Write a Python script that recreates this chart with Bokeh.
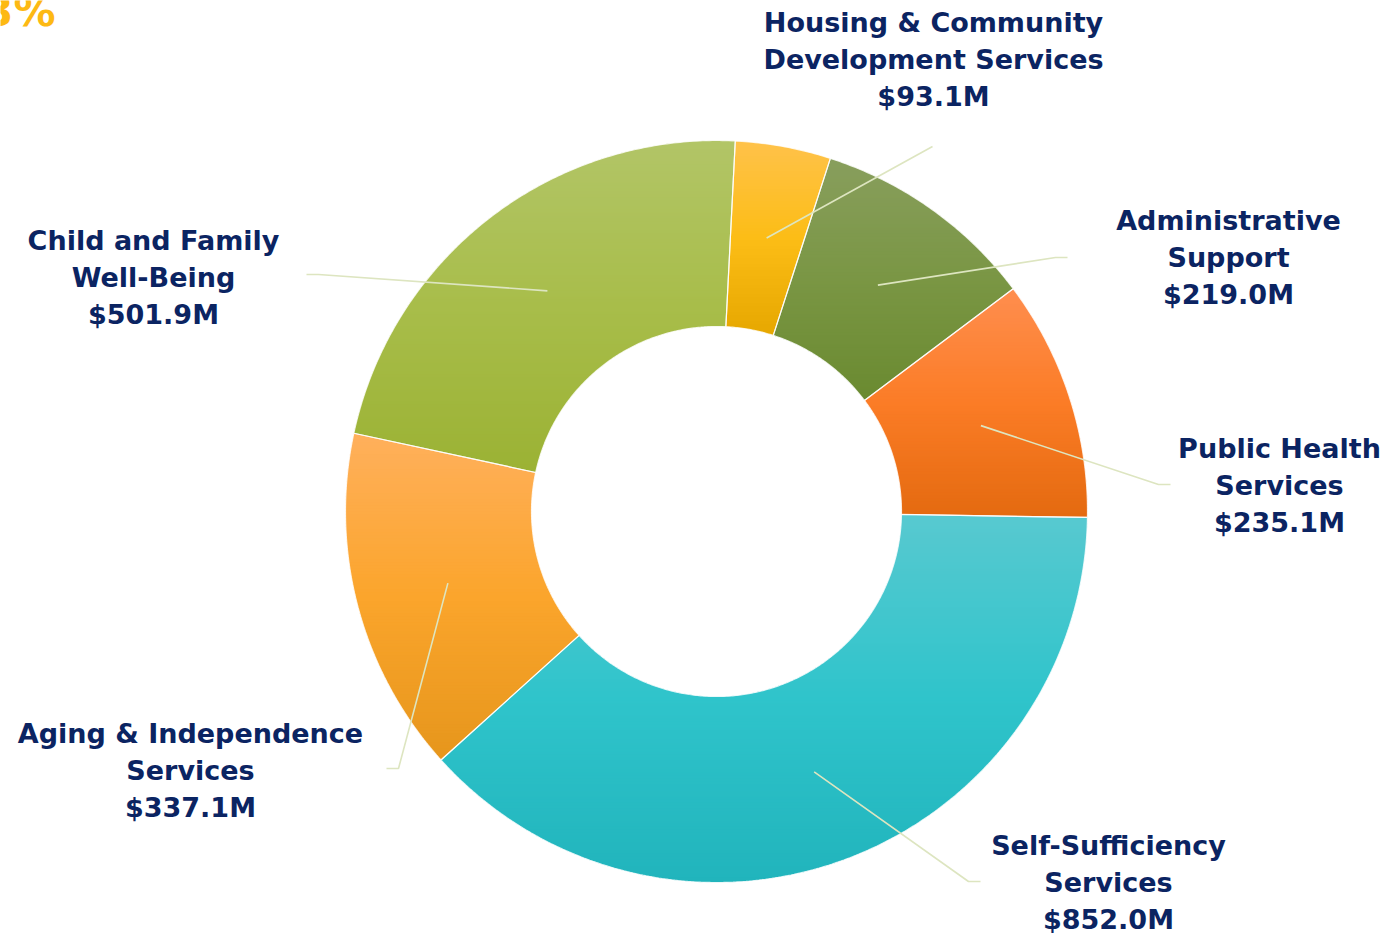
import math
from bokeh.plotting import figure
from bokeh.models import Range1d, ColumnDataSource
from bokeh.core.properties import value
from bokeh.embed import file_html
from bokeh.resources import INLINE

# ---- data ----
categories = ["Housing & Community\nDevelopment Services", "Administrative\nSupport",
              "Public Health\nServices", "Self-Sufficiency\nServices",
              "Aging & Independence\nServices", "Child and Family\nWell-Being"]
values_m = [93.1, 219.0, 235.1, 852.0, 337.1, 501.9]
value_labels = ["$93.1M", "$219.0M", "$235.1M", "$852.0M", "$337.1M", "$501.9M"]
color_top = ["#ffc24a", "#889e5d", "#ff8e4f", "#58c9d0", "#ffb05c", "#b2c567"]
color_mid = ["#fcbd16", "#7a9644", "#fb7c26", "#2fc4cb", "#fba52c", "#a8bd4a"]
color_bottom = ["#e6a700", "#6a8a30", "#e46a10", "#21b4bc", "#e6961c", "#9bb234"]

# ---- layout (pixel space of the page) ----
CX, CY, R_OUT, R_IN = 716.0, 511.0, 371.0, 185.0
START_DEG = 2.9
LEADER_R = 278.0
label_pos = [(933, 21.5), (1228, 220.0), (1279, 447.5), (1108, 844.5), (190, 732.5), (153, 239.5)]
leader_tail = [[(932, 146)], [(1055, 257), (1067, 257)], [(1158, 484), (1170, 484)],
               [(968, 881), (980, 881)], [(398, 768), (386, 768)], [(318, 274), (306, 274)]]
LINE_PITCH = 37.0
NAVY = "#0b2462"
W, H = 1386, 933


def pt(angle_deg, r):
    a = math.radians(angle_deg)
    return (CX + r * math.sin(a), CY - r * math.cos(a))


def hex2rgb(h):
    h = h.lstrip("#")
    return tuple(int(h[i:i + 2], 16) for i in (0, 2, 4))


def mix(c1, c2, t):
    a, b = hex2rgb(c1), hex2rgb(c2)
    return "#%02x%02x%02x" % tuple(int(round(a[i] + (b[i] - a[i]) * t)) for i in range(3))


def grad(i, t):
    if t < 0.5:
        return mix(color_top[i], color_mid[i], t / 0.5)
    return mix(color_mid[i], color_bottom[i], (t - 0.5) / 0.5)


def clip_half(poly, yc, keep_below):
    out = []
    n = len(poly)
    if n == 0:
        return out
    def inside(p):
        return p[1] >= yc if keep_below else p[1] <= yc
    for i in range(n):
        cur, prev = poly[i], poly[i - 1]
        ci, pi_ = inside(cur), inside(prev)
        if ci:
            if not pi_:
                t = (yc - prev[1]) / (cur[1] - prev[1])
                out.append((prev[0] + t * (cur[0] - prev[0]), yc))
            out.append(cur)
        elif pi_:
            t = (yc - prev[1]) / (cur[1] - prev[1])
            out.append((prev[0] + t * (cur[0] - prev[0]), yc))
    return out


total = sum(values_m)
xs_s, ys_s, cols_s = [], [], []
ox, oy = [], []
lx, ly = [], []
angle = START_DEG
for i, v in enumerate(values_m):
    span = v / total * 360.0
    a0, a1 = angle, angle + span
    n = max(8, int(span * 2))
    outer = [pt(a0 + (a1 - a0) * k / n, R_OUT) for k in range(n + 1)]
    inner = [pt(a1 - (a1 - a0) * k / n, R_IN) for k in range(n + 1)]
    poly = outer + inner
    ymin = min(p[1] for p in poly)
    ymax = max(p[1] for p in poly)
    step = 3.0
    y = ymin
    while y < ymax:
        piece = clip_half(clip_half(poly, y, True), min(y + step + 0.8, ymax), False)
        if len(piece) >= 3:
            t = (y + step / 2 - ymin) / (ymax - ymin)
            xs_s.append([p[0] for p in piece])
            ys_s.append([p[1] for p in piece])
            cols_s.append(grad(i, min(max(t, 0), 1)))
        y += step
    ox.append([p[0] for p in poly] + [poly[0][0]])
    oy.append([p[1] for p in poly] + [poly[0][1]])
    mid = (a0 + a1) / 2
    s = pt(mid, LEADER_R)
    pts = [s] + leader_tail[i]
    lx.append([p[0] for p in pts])
    ly.append([p[1] for p in pts])
    angle = a1

p = figure(width=W, height=H, x_range=Range1d(0, W), y_range=Range1d(H, 0),
           output_backend="svg", toolbar_location=None, min_border=0)
p.axis.visible = False
p.grid.visible = False
p.outline_line_color = None
p.background_fill_color = "white"

p.patches(xs="xs", ys="ys", fill_color="c", line_color=None,
          source=ColumnDataSource(dict(xs=xs_s, ys=ys_s, c=cols_s)))
p.multi_line(xs=ox, ys=oy, line_color="white", line_width=1.2, line_alpha=0.8)
p.multi_line(xs=lx, ys=ly, line_color="#dde5c0", line_width=1.6)

tx, ty, tt = [], [], []
for i, cat in enumerate(categories):
    lines = cat.split("\n") + [value_labels[i]]
    x0, y0 = label_pos[i]
    for k, ln in enumerate(lines):
        tx.append(x0)
        ty.append(y0 + k * LINE_PITCH)
        tt.append(ln)
p.text(x="x", y="y", text="t", source=ColumnDataSource(dict(x=tx, y=ty, t=tt)),
       text_font=value("DejaVu Sans"), text_font_style="bold", text_font_size="27px",
       text_color=NAVY, text_align="center", text_baseline="alphabetic")

p.text(x=[55], y=[11], text=["3%"], text_font=value("DejaVu Sans"), text_font_style="bold",
       text_font_size="42px", text_color="#fdb913", text_align="right", text_baseline="alphabetic")

open("out.html", "w").write(file_html(p, INLINE))
